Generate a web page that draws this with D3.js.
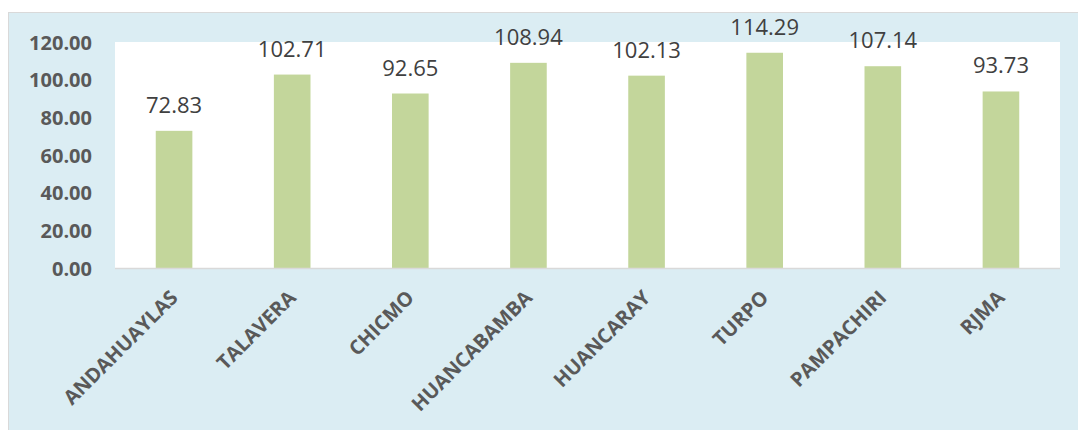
<!DOCTYPE html>
<html>
<head>
<meta charset="utf-8">
<script src="https://cdn.jsdelivr.net/npm/d3@7"></script>
<style>
  body { margin: 0; background: #fff; }
  svg { display: block; }
  .y-axis text { font-family: "Open Sans", sans-serif; font-weight: 700; font-size: 20px; fill: #595959; }
  .x-label { font-family: "Open Sans", sans-serif; font-weight: 700; font-size: 20px; fill: #595959; }
  .value { font-family: "Open Sans", sans-serif; font-size: 22px; fill: #404040; }
</style>
</head>
<body>
<svg id="chart"></svg>
<script>
// categories and values
const districts = ["ANDAHUAYLAS", "TALAVERA", "CHICMO", "HUANCABAMBA", "HUANCARAY", "TURPO", "PAMPACHIRI", "RJMA"];
const values = [72.83, 102.71, 92.65, 108.94, 102.13, 114.29, 107.14, 93.73];
const yTicks = [0, 20, 40, 60, 80, 100, 120];

const config = {
  width: 1078,
  height: 430,
  margin: {top: 42, right: 18, bottom: 162, left: 115}
};

const svg = d3.select('#chart')
  .attr('width', config.width)
  .attr('height', config.height);

// chart background with its thin border
svg.append('rect')
  .attr('x', 8.5)
  .attr('y', 12.5)
  .attr('width', config.width)
  .attr('height', config.height)
  .attr('fill', '#dbedf3')
  .attr('stroke', '#d9d9d9');

const innerW = config.width - config.margin.left - config.margin.right;
const innerH = config.height - config.margin.top - config.margin.bottom;

const chart = svg.append('g')
  .attr('transform', `translate(${config.margin.left},${config.margin.top})`);

// white plot area
chart.append('rect')
  .attr('width', innerW)
  .attr('height', innerH)
  .attr('fill', '#fff');

const xScale = d3.scaleBand()
  .domain(districts)
  .range([0, innerW])
  .paddingInner(0.69)
  .paddingOuter(0.345);

const yScale = d3.scaleLinear()
  .domain([0, 120])
  .range([innerH, 0]);

// y axis, labels only
const yAxisG = chart.append('g')
  .attr('class', 'y-axis')
  .call(d3.axisLeft(yScale).tickValues(yTicks).tickFormat(d3.format('.2f')).tickSize(0).tickPadding(23))
  .call(g => g.select('.domain').remove());
yAxisG.selectAll('text').attr('dy', '0.35em');

const data = districts.map((d, i) => ({name: d, value: values[i]}));

chart.selectAll('.bar')
  .data(data)
  .join('rect')
  .attr('class', 'bar')
  .attr('x', d => xScale(d.name))
  .attr('y', d => yScale(d.value))
  .attr('width', xScale.bandwidth())
  .attr('height', d => innerH - yScale(d.value))
  .attr('fill', '#c3d69b');

// baseline
chart.append('line')
  .attr('x1', 0)
  .attr('x2', innerW)
  .attr('y1', innerH + 0.5)
  .attr('y2', innerH + 0.5)
  .attr('stroke', '#d9d9d9')
  .attr('stroke-width', 1.5);

// value labels
chart.selectAll('.value')
  .data(data)
  .join('text')
  .attr('class', 'value')
  .attr('text-anchor', 'middle')
  .attr('x', d => xScale(d.name) + xScale.bandwidth() / 2)
  .attr('y', d => yScale(d.value) - 18)
  .text(d => d.value.toFixed(2));

// rotated category labels
chart.selectAll('.x-label')
  .data(data)
  .join('text')
  .attr('class', 'x-label')
  .attr('text-anchor', 'end')
  .attr('transform', d => `translate(${xScale(d.name) + xScale.bandwidth() / 2 + 5},${innerH + 31}) rotate(-45)`)
  .text(d => d.name);
</script>
</body>
</html>
